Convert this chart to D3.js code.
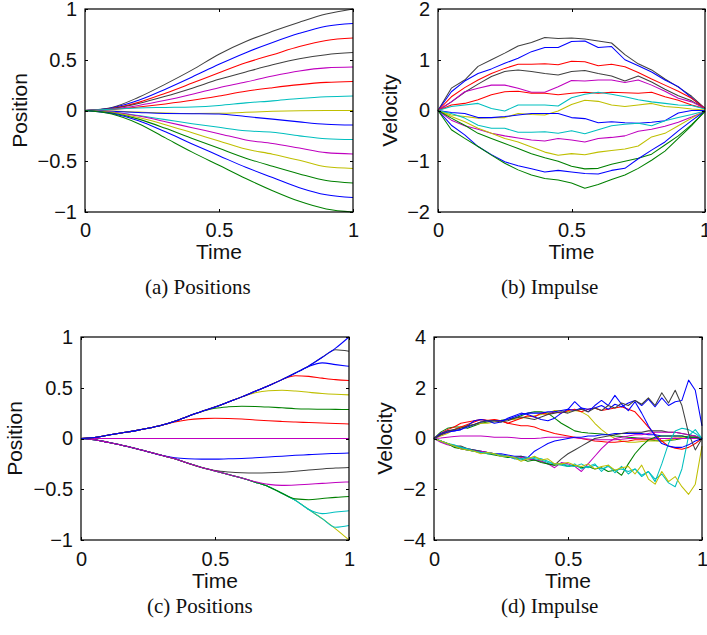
<!DOCTYPE html>
<html><head><meta charset="utf-8">
<script src="https://cdn.jsdelivr.net/npm/d3@7"></script>
<style>body{margin:0;background:#fff}svg{display:block}</style>
</head><body><svg id="chart" width="707" height="635"></svg>
<script>
// ---------- shared axis values ----------
const xTicks = [0, 0.5, 1];
const yTicksPos = [-1, -0.5, 0, 0.5, 1];
const yTicksVelB = [-2, -1, 0, 1, 2];
const yTicksVelD = [-4, -2, 0, 2, 4];
const captions = ["(a) Positions", "(b) Impulse", "(c) Positions", "(d) Impulse"];

// ---------- time grids ----------
const time11 = [0,0.1,0.2,0.3,0.4,0.5,0.6,0.7,0.8,0.9,1];
const time21 = [0,0.05,0.1,0.15,0.2,0.25,0.3,0.35,0.4,0.45,0.5,0.55,0.6,0.65,0.7,0.75,0.8,0.85,0.9,0.95,1];
const time41 = [0,0.025,0.05,0.075,0.1,0.125,0.15,0.175,0.2,0.225,0.25,0.275,0.3,0.325,0.35,0.375,0.4,0.425,0.45,0.475,0.5,0.525,0.55,0.575,0.6,0.625,0.65,0.675,0.7,0.725,0.75,0.775,0.8,0.825,0.85,0.875,0.9,0.925,0.95,0.975,1];

// ---------- panel (a): positions ----------
const posA_k1 = [0,0.03,0.13,0.26,0.40,0.555,0.68,0.78,0.87,0.95,1.0];
const posA_b1 = [0,0.025,0.10,0.21,0.33,0.455,0.57,0.67,0.76,0.83,0.857];
const posA_r1 = [0,0.02,0.08,0.17,0.27,0.372,0.47,0.55,0.63,0.69,0.714];
const posA_k2 = [0,0.02,0.07,0.14,0.22,0.307,0.38,0.45,0.51,0.55,0.571];
const posA_m1 = [0,0.015,0.05,0.10,0.16,0.225,0.28,0.34,0.39,0.42,0.428];
const posA_r2 = [0,0.01,0.035,0.065,0.10,0.143,0.19,0.225,0.255,0.277,0.286];
const posA_c1 = [0,0.012,0.025,0.03,0.035,0.05,0.075,0.095,0.118,0.135,0.143];
const posA_y1 = [0,-0.005,-0.015,-0.025,-0.03,-0.028,-0.018,-0.008,-0.002,0,0];
const posA_b2 = [0,-0.008,-0.02,-0.03,-0.032,-0.035,-0.06,-0.085,-0.112,-0.135,-0.143];
const posA_c2 = [0,-0.015,-0.05,-0.09,-0.13,-0.166,-0.20,-0.215,-0.25,-0.278,-0.286];
const posA_m2 = [0,-0.015,-0.055,-0.11,-0.17,-0.228,-0.29,-0.325,-0.37,-0.415,-0.428];
const posA_y2 = [0,-0.02,-0.07,-0.14,-0.22,-0.30,-0.38,-0.43,-0.49,-0.555,-0.571];
const posA_g1 = [0,-0.025,-0.085,-0.175,-0.275,-0.373,-0.47,-0.55,-0.625,-0.69,-0.714];
const posA_b3 = [0,-0.03,-0.10,-0.21,-0.33,-0.445,-0.56,-0.66,-0.76,-0.83,-0.857];
const posA_g2 = [0,-0.035,-0.13,-0.27,-0.41,-0.54,-0.67,-0.79,-0.895,-0.97,-1.0];

// ---------- panel (b): velocities ----------
const velB_k1 = [0,0.44,0.6,0.87,1.0,1.13,1.27,1.34,1.44,1.42,1.43,1.41,1.37,1.33,1.1,0.92,0.8,0.62,0.46,0.28,0.04];
const velB_b1 = [0,0.37,0.58,0.73,0.82,0.93,1.03,1.16,1.24,1.24,1.36,1.37,1.24,1.26,1.0,0.88,0.76,0.6,0.47,0.25,0.03];
const velB_r1 = [0,0.27,0.45,0.6,0.73,0.83,0.91,0.91,0.92,0.9,0.97,0.96,0.88,0.91,0.86,0.75,0.62,0.5,0.38,0.24,0.04];
const velB_k2 = [0,0.17,0.36,0.52,0.67,0.77,0.8,0.77,0.73,0.7,0.77,0.79,0.73,0.68,0.58,0.68,0.56,0.42,0.29,0.19,0.04];
const velB_m1 = [0,0.17,0.37,0.44,0.5,0.5,0.44,0.36,0.36,0.47,0.59,0.58,0.6,0.6,0.55,0.6,0.5,0.38,0.24,0.17,0.04];
const velB_r2 = [0,0.11,0.14,0.21,0.31,0.37,0.38,0.34,0.34,0.31,0.34,0.36,0.34,0.36,0.35,0.34,0.36,0.27,0.2,0.11,0.04];
const velB_c1 = [0,0.08,0.11,0.14,0.04,-0.01,0.11,0.11,0.11,0.09,0.25,0.32,0.36,0.32,0.27,0.21,0.17,0.14,0.11,0.1,0.03];
const velB_y1 = [0,-0.09,-0.12,-0.15,-0.14,-0.14,-0.06,-0.08,-0.09,-0.01,0.12,0.2,0.18,0.11,0.08,0.11,0.14,0.08,0.06,0.03,0.01];
const velB_b2 = [0,-0.04,-0.06,-0.14,-0.14,-0.12,-0.09,-0.06,-0.06,-0.06,-0.14,-0.16,-0.24,-0.22,-0.24,-0.25,-0.23,-0.2,-0.05,0.0,0.0];
const velB_c2 = [0,-0.06,-0.15,-0.29,-0.35,-0.35,-0.43,-0.43,-0.42,-0.45,-0.4,-0.46,-0.38,-0.3,-0.27,-0.25,-0.3,-0.2,-0.14,-0.08,-0.01];
const velB_m2 = [0,-0.19,-0.3,-0.37,-0.45,-0.5,-0.54,-0.58,-0.6,-0.55,-0.58,-0.62,-0.55,-0.53,-0.5,-0.41,-0.37,-0.31,-0.23,-0.13,-0.02];
const velB_y2 = [0,-0.12,-0.22,-0.35,-0.45,-0.55,-0.62,-0.72,-0.82,-0.88,-0.85,-0.87,-0.82,-0.79,-0.76,-0.7,-0.52,-0.45,-0.3,-0.15,-0.01];
const velB_g1 = [0,-0.15,-0.29,-0.45,-0.55,-0.65,-0.75,-0.85,-0.93,-1.0,-1.1,-1.15,-1.14,-1.06,-1.0,-0.94,-0.86,-0.68,-0.5,-0.28,-0.02];
const velB_b3 = [0,-0.29,-0.48,-0.71,-0.87,-1.01,-1.09,-1.15,-1.21,-1.18,-1.21,-1.24,-1.25,-1.18,-1.14,-0.95,-0.78,-0.62,-0.4,-0.2,-0.01];
const velB_g2 = [0,-0.38,-0.55,-0.71,-0.88,-1.04,-1.17,-1.27,-1.34,-1.37,-1.43,-1.53,-1.46,-1.36,-1.27,-1.14,-0.98,-0.8,-0.55,-0.3,-0.01];

// ---------- panel (c): positions ----------
const posC_b1 = [0,0.01,0.032,0.055,0.075,0.1,0.13,0.17,0.22,0.265,0.31,0.36,0.41,0.465,0.52,0.58,0.645,0.715,0.8,0.89,1.0];
const posC_k1 = [0,0.01,0.032,0.055,0.075,0.1,0.13,0.17,0.22,0.265,0.31,0.36,0.41,0.465,0.52,0.58,0.645,0.715,0.8,0.875,0.86];
const posC_b2 = [0,0.01,0.032,0.055,0.075,0.1,0.13,0.17,0.22,0.265,0.31,0.36,0.41,0.465,0.52,0.58,0.645,0.71,0.745,0.728,0.712];
const posC_r1 = [0,0.01,0.032,0.055,0.075,0.1,0.13,0.17,0.22,0.265,0.31,0.36,0.41,0.465,0.52,0.58,0.618,0.612,0.595,0.58,0.572];
const posC_y1 = [0,0.01,0.032,0.055,0.075,0.1,0.13,0.17,0.22,0.265,0.31,0.36,0.41,0.45,0.47,0.475,0.468,0.455,0.443,0.435,0.43];
const posC_g1 = [0,0.01,0.032,0.055,0.075,0.1,0.13,0.17,0.22,0.265,0.298,0.312,0.318,0.316,0.31,0.302,0.294,0.29,0.288,0.287,0.286];
const posC_r2 = [0,0.01,0.032,0.055,0.075,0.1,0.13,0.162,0.185,0.196,0.2,0.198,0.192,0.183,0.175,0.168,0.162,0.157,0.152,0.147,0.143];
const posC_m1 = [0,0,0,0,0,0,0,0,0,0,0,0,0,0,0,0,0,0,0,0,0];
const posC_b3 = [0,-0.012,-0.037,-0.065,-0.095,-0.13,-0.165,-0.19,-0.2,-0.203,-0.203,-0.2,-0.197,-0.19,-0.182,-0.174,-0.166,-0.159,-0.152,-0.147,-0.143];
const posC_k2 = [0,-0.012,-0.037,-0.065,-0.095,-0.13,-0.165,-0.2,-0.245,-0.285,-0.315,-0.33,-0.338,-0.34,-0.338,-0.332,-0.322,-0.311,-0.3,-0.291,-0.286];
const posC_m2 = [0,-0.012,-0.037,-0.065,-0.095,-0.13,-0.165,-0.2,-0.245,-0.285,-0.32,-0.355,-0.39,-0.425,-0.452,-0.462,-0.458,-0.45,-0.442,-0.434,-0.428];
const posC_g2 = [0,-0.012,-0.037,-0.065,-0.095,-0.13,-0.165,-0.2,-0.245,-0.285,-0.32,-0.355,-0.39,-0.43,-0.475,-0.54,-0.595,-0.603,-0.592,-0.58,-0.572];
const posC_c1 = [0,-0.012,-0.037,-0.065,-0.095,-0.13,-0.165,-0.2,-0.245,-0.285,-0.32,-0.355,-0.39,-0.43,-0.475,-0.54,-0.61,-0.7,-0.74,-0.725,-0.712];
const posC_c2 = [0,-0.012,-0.037,-0.065,-0.095,-0.13,-0.165,-0.2,-0.245,-0.285,-0.32,-0.355,-0.39,-0.43,-0.475,-0.54,-0.61,-0.7,-0.79,-0.875,-0.858];
const posC_y2 = [0,-0.012,-0.037,-0.065,-0.095,-0.13,-0.165,-0.2,-0.245,-0.285,-0.32,-0.355,-0.39,-0.43,-0.475,-0.54,-0.61,-0.7,-0.79,-0.89,-1.0];

// ---------- panel (d): velocities ----------
const velD_b1 = [0,0.15,0.25,0.3,0.35,0.45,0.55,0.65,0.7,0.7,0.7,0.75,0.85,0.95,1.0,1.0,1.0,1.05,1.05,1.1,1.15,1.1,1.2,1.15,1.2,1.3,1.15,1.35,1.25,1.4,1.5,1.3,1.55,1.25,1.6,1.3,1.45,1.5,2.3,1.9,0.5];
const velD_k1 = [0,0.15,0.3,0.35,0.4,0.5,0.55,0.65,0.7,0.7,0.65,0.7,0.8,0.85,0.8,0.75,0.85,0.95,1.0,1.05,1.0,1.1,1.15,1.05,1.2,1.1,1.3,1.2,1.4,1.3,1.5,1.35,1.6,1.3,1.8,1.4,1.9,1.3,0.2,-0.45,0];
const velD_b2 = [0,0.2,0.3,0.3,0.35,0.5,0.7,0.75,0.7,0.6,0.65,0.8,0.9,1.0,0.95,0.85,0.75,0.7,0.8,1.0,1.15,1.45,1.2,1.05,1.3,1.5,1.3,1.7,1.35,1.1,1.45,1.0,0.5,0.1,-0.2,-0.3,-0.35,-0.35,-0.25,-0.1,0];
const velD_r1 = [0,0.15,0.25,0.35,0.45,0.55,0.65,0.75,0.7,0.75,0.7,0.6,0.7,0.8,0.9,0.85,1.0,0.95,1.05,1.0,1.1,1.15,1.05,1.15,1.2,1.1,1.15,1.2,1.25,1.15,1.05,0.75,0.45,0.15,-0.1,-0.3,-0.38,-0.42,-0.35,-0.2,0];
const velD_y1 = [0,0.1,0.2,0.35,0.45,0.5,0.55,0.6,0.6,0.65,0.7,0.75,0.75,0.8,0.85,0.9,0.95,1.0,1.1,1.1,1.05,1.1,1.05,0.9,0.6,0.35,0.15,0.0,-0.1,-0.15,-0.15,-0.12,-0.1,-0.1,-0.1,-0.05,-0.02,0.05,0.1,0.05,0];
const velD_g1 = [0,0.25,0.4,0.45,0.45,0.4,0.5,0.6,0.65,0.7,0.72,0.75,0.8,0.9,1.0,1.05,1.05,1.0,0.8,0.6,0.45,0.3,0.25,0.22,0.2,0.18,0.15,0.1,0.08,0.05,0.03,0.0,-0.05,-0.08,-0.1,-0.08,-0.05,0.0,0.05,0.05,0];
const velD_r2 = [0,0.2,0.35,0.45,0.6,0.65,0.7,0.75,0.72,0.73,0.7,0.6,0.55,0.5,0.5,0.45,0.35,0.28,0.2,0.15,0.1,0.05,0.0,-0.05,-0.1,-0.12,-0.15,-0.15,-0.12,-0.1,-0.05,-0.05,-0.05,-0.02,0.0,0.0,0.02,0.0,0.0,0.0,0];
const velD_m1 = [0,0.02,0.05,0.08,0.1,0.1,0.1,0.1,0.08,0.05,0.05,0.05,0.03,0.0,0.0,0.0,0.02,0.05,0.05,0.05,0.05,0.03,0.0,-0.02,-0.05,-0.05,-0.05,-0.05,-0.03,0.0,0.0,0.02,0.02,0.0,0.0,0.0,0.0,0.0,0.0,0.0,0];
const velD_b3 = [0,-0.1,-0.2,-0.3,-0.35,-0.4,-0.45,-0.5,-0.55,-0.6,-0.6,-0.65,-0.7,-0.7,-0.75,-0.5,-0.35,-0.2,-0.1,-0.05,0.0,0.05,0.05,0.1,0.1,0.15,0.15,0.2,0.2,0.2,0.2,0.2,0.15,0.15,0.1,0.1,0.1,0.1,0.05,0.05,0];
const velD_k2 = [0,-0.1,-0.2,-0.3,-0.3,-0.4,-0.45,-0.5,-0.55,-0.6,-0.65,-0.7,-0.75,-0.7,-0.8,-0.85,-0.9,-1.0,-1.05,-0.8,-0.6,-0.45,-0.3,-0.15,0.0,0.05,0.1,0.15,0.2,0.25,0.25,0.25,0.3,0.3,0.3,0.25,0.25,0.2,0.15,0.1,0];
const velD_m2 = [0,-0.15,-0.25,-0.3,-0.4,-0.45,-0.5,-0.5,-0.55,-0.6,-0.65,-0.7,-0.8,-0.75,-0.8,-0.85,-0.9,-1.0,-1.15,-0.95,-1.0,-1.1,-1.3,-1.0,-0.7,-0.4,-0.15,0.0,0.05,0.1,0.15,0.15,0.2,0.25,0.25,0.25,0.25,0.2,0.15,0.1,0];
const velD_g2 = [0,-0.1,-0.2,-0.35,-0.4,-0.45,-0.5,-0.55,-0.6,-0.65,-0.7,-0.75,-0.75,-0.8,-0.9,-0.85,-0.95,-1.0,-1.05,-1.0,-1.1,-1.05,-1.15,-1.1,-1.2,-1.15,-1.3,-1.25,-1.45,-1.0,-0.6,-0.3,-0.05,0.05,0.1,0.1,0.1,0.1,0.05,0.05,0];
const velD_c1 = [0,-0.1,-0.2,-0.3,-0.35,-0.4,-0.5,-0.55,-0.55,-0.6,-0.65,-0.7,-0.75,-0.8,-0.75,-0.8,-0.85,-0.95,-1.0,-1.05,-1.1,-1.0,-1.2,-1.1,-1.0,-1.3,-1.05,-1.35,-1.1,-1.4,-1.2,-1.5,-1.3,-1.7,-1.0,-0.2,0.3,0.4,0.35,0.2,0];
const velD_c2 = [0,-0.1,-0.2,-0.25,-0.35,-0.45,-0.5,-0.55,-0.6,-0.6,-0.7,-0.7,-0.8,-0.85,-0.8,-0.75,-0.8,-0.9,-1.0,-1.0,-1.05,-1.1,-1.0,-1.15,-1.05,-1.2,-1.1,-1.25,-1.2,-1.3,-1.2,-1.45,-1.3,-1.6,-1.4,-1.75,-1.9,-1.2,0.1,0.35,0];
const velD_y2 = [0,-0.1,-0.2,-0.3,-0.4,-0.45,-0.5,-0.6,-0.55,-0.6,-0.7,-0.7,-0.75,-0.9,-0.8,-0.7,-0.85,-0.8,-1.0,-1.0,-0.95,-1.05,-1.1,-1.0,-1.2,-1.1,-1.05,-1.25,-1.15,-1.1,-1.4,-1.05,-1.6,-1.8,-1.3,-1.7,-1.5,-1.9,-2.2,-1.8,-0.3];

// ---------- colours (MATLAB style) ----------
const K = "#404040", B = "#0000ff", R = "#ff0000", G = "#008000", C = "#00bfbf", M = "#bf00bf", Y = "#bfbf00";

const svg = d3.select("#chart");
const fontSans = "'Liberation Sans', Arial, Helvetica, sans-serif";
const fontSerif = "'Liberation Serif', 'Times New Roman', serif";

function panel(o) {
  const x = d3.scaleLinear().domain([0, 1]).range([o.left, o.right]);
  const y = d3.scaleLinear().domain([o.yTicks[0], o.yTicks[o.yTicks.length - 1]]).range([o.bottom, o.top]);
  const g = svg.append("g");

  const line = d3.line().x(d => x(d[0])).y(d => y(d[1])).curve(o.curve);
  o.series.forEach(s => {
    g.append("path")
      .attr("d", line(o.time.map((t, i) => [t, s.v[i]])))
      .attr("fill", "none").attr("stroke", s.c).attr("stroke-width", 1.05)
      .attr("stroke-linejoin", "round");
  });

  const fmt = d3.format("~g");
  const styleAxis = sel => {
    sel.select(".domain").remove();
    sel.selectAll(".tick line").attr("stroke", "#000").attr("shape-rendering", "crispEdges");
    sel.selectAll("text").attr("font-family", fontSans).attr("font-size", 20).attr("fill", "#111");
  };
  g.append("g").attr("transform", `translate(0,${o.bottom})`)
    .call(d3.axisBottom(x).tickValues(xTicks).tickFormat(fmt).tickSizeInner(-3).tickSizeOuter(0).tickPadding(o.xPad))
    .call(styleAxis);
  g.append("g").attr("transform", `translate(0,${o.top})`)
    .call(d3.axisTop(x).tickValues(xTicks).tickFormat("").tickSizeInner(-3).tickSizeOuter(0))
    .call(styleAxis);
  g.append("g").attr("transform", `translate(${o.left},0)`)
    .call(d3.axisLeft(y).tickValues(o.yTicks).tickFormat(fmt).tickSizeInner(-3).tickSizeOuter(0).tickPadding(8))
    .call(styleAxis);
  g.append("g").attr("transform", `translate(${o.right},0)`)
    .call(d3.axisRight(y).tickValues(o.yTicks).tickFormat("").tickSizeInner(-3).tickSizeOuter(0))
    .call(styleAxis);

  g.append("rect").attr("x", o.left).attr("y", o.top)
    .attr("width", o.right - o.left).attr("height", o.bottom - o.top)
    .attr("fill", "none").attr("stroke", "#000").attr("stroke-width", 1.2);

  g.append("text").attr("x", (o.left + o.right) / 2).attr("y", o.timeY)
    .attr("text-anchor", "middle").attr("font-family", fontSans).attr("font-size", 21).attr("fill", "#111")
    .text("Time");
  g.append("text").attr("transform", `translate(${o.yLabelX},${(o.top + o.bottom) / 2}) rotate(-90)`)
    .attr("text-anchor", "middle").attr("font-family", fontSans).attr("font-size", 21).attr("fill", "#111")
    .text(o.yLabel);
  g.append("text").attr("x", o.capX).attr("y", o.capY)
    .attr("font-family", fontSerif).attr("font-size", 21).attr("fill", "#111")
    .text(o.caption);
}

panel({left: 85, right: 353, top: 9, bottom: 212, yTicks: yTicksPos, yLabel: "Position", yLabelX: 27,
  time: time11, curve: d3.curveMonotoneX, xPad: 11, timeY: 259, caption: captions[0], capX: 145, capY: 294,
  series: [
    {c: K, v: posA_k1}, {c: B, v: posA_b1}, {c: R, v: posA_r1}, {c: K, v: posA_k2}, {c: M, v: posA_m1},
    {c: R, v: posA_r2}, {c: C, v: posA_c1}, {c: Y, v: posA_y1}, {c: B, v: posA_b2}, {c: C, v: posA_c2},
    {c: M, v: posA_m2}, {c: Y, v: posA_y2}, {c: G, v: posA_g1}, {c: B, v: posA_b3}, {c: G, v: posA_g2}]});

panel({left: 438, right: 705, top: 9, bottom: 212, yTicks: yTicksVelB, yLabel: "Velocity", yLabelX: 397,
  time: time21, curve: d3.curveLinear, xPad: 11, timeY: 259, caption: captions[1], capX: 501, capY: 294,
  series: [
    {c: K, v: velB_k1}, {c: B, v: velB_b1}, {c: R, v: velB_r1}, {c: K, v: velB_k2}, {c: M, v: velB_m1},
    {c: R, v: velB_r2}, {c: C, v: velB_c1}, {c: Y, v: velB_y1}, {c: B, v: velB_b2}, {c: C, v: velB_c2},
    {c: M, v: velB_m2}, {c: Y, v: velB_y2}, {c: G, v: velB_g1}, {c: B, v: velB_b3}, {c: G, v: velB_g2}]});

panel({left: 81, right: 349, top: 337, bottom: 540, yTicks: yTicksPos, yLabel: "Position", yLabelX: 22,
  time: time21, curve: d3.curveMonotoneX, xPad: 12, timeY: 588, caption: captions[2], capX: 147, capY: 613,
  series: [
    {c: Y, v: posC_y2}, {c: C, v: posC_c2}, {c: C, v: posC_c1}, {c: G, v: posC_g2}, {c: B, v: posC_b3},
    {c: K, v: posC_k2}, {c: M, v: posC_m2}, {c: M, v: posC_m1},
    {c: R, v: posC_r2}, {c: G, v: posC_g1}, {c: Y, v: posC_y1}, {c: R, v: posC_r1}, {c: B, v: posC_b2},
    {c: K, v: posC_k1}, {c: B, v: posC_b1}]});

panel({left: 434, right: 702, top: 337, bottom: 540, yTicks: yTicksVelD, yLabel: "Velocity", yLabelX: 392,
  time: time41, curve: d3.curveLinear, xPad: 12, timeY: 588, caption: captions[3], capX: 501, capY: 613,
  series: [
    {c: G, v: velD_g1}, {c: Y, v: velD_y1}, {c: R, v: velD_r1}, {c: R, v: velD_r2}, {c: M, v: velD_m1},
    {c: B, v: velD_b3}, {c: K, v: velD_k2}, {c: M, v: velD_m2}, {c: G, v: velD_g2},
    {c: C, v: velD_c1}, {c: C, v: velD_c2}, {c: Y, v: velD_y2},
    {c: B, v: velD_b2}, {c: B, v: velD_b1}, {c: K, v: velD_k1}]});
</script>
</body></html>
